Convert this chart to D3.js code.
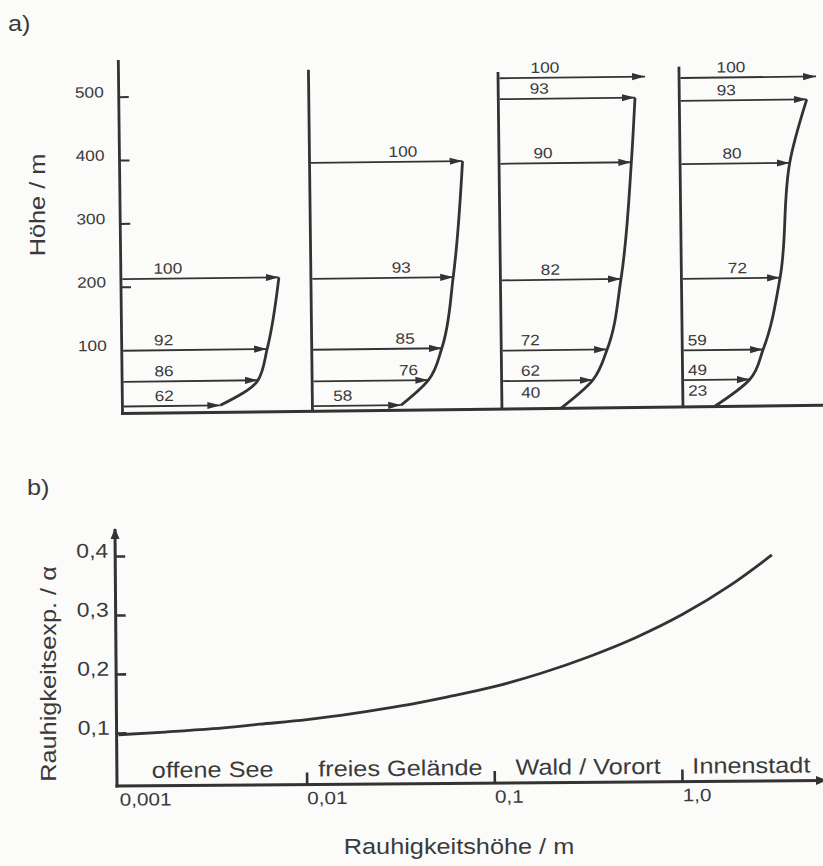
<!DOCTYPE html>
<html>
<head>
<meta charset="utf-8">
<script src="https://cdn.jsdelivr.net/npm/d3@7"></script>
<style>
  html, body { margin: 0; padding: 0; background: #fbfbfa; }
  svg { display: block; font-family: "Liberation Sans", Arial, Helvetica, sans-serif; }
</style>
</head>
<body>
<svg id="chart" width="823" height="866"></svg>
<script>
// ---------- a) Windprofile: relative Windgeschwindigkeit (%) in Höhe (m) ----------
const terrainNames = ["offene See", "freies Gelände", "Wald / Vorort", "Innenstadt"];

const heightsSee    = [11, 50, 99, 212];
const speedsSee     = [62, 86, 92, 100];
const heightsFrei   = [8, 47, 97, 209, 392];
const speedsFrei    = [58, 76, 85, 93, 100];
const heightsWald   = [0, 44, 92, 203, 387, 489, 522];
const speedsWald    = [40, 62, 72, 82, 90, 93, 100];
const heightsStadt  = [0, 42, 89, 202, 383, 483, 519];
const speedsStadt   = [23, 49, 59, 72, 80, 93, 100];

// height (m) up to which the profile curve is drawn (gradient height)
const gradientHeights = [212, 392, 489, 483];
const heightTicks = [100, 200, 300, 400, 500];

// ---------- b) Rauhigkeitsexponent über Rauhigkeitshöhe ----------
const roughnessLength = [0.001, 0.00177, 0.00319, 0.00567, 0.0101, 0.018, 0.032, 0.057,
                         0.102, 0.181, 0.323, 0.577, 1.03, 1.84, 3.08];
const roughnessExp    = [0.097, 0.101, 0.106, 0.113, 0.120, 0.130, 0.142, 0.157,
                         0.174, 0.196, 0.223, 0.255, 0.294, 0.342, 0.393];
const classBounds     = [0.001, 0.01, 0.1, 1.0, 5.5];
const lengthTicks      = [0.001, 0.01, 0.1, 1.0];
const lengthTickLabels = ["0,001", "0,01", "0,1", "1,0"];
const expTicks      = [0.1, 0.2, 0.3, 0.4];
const expTickLabels = ["0,1", "0,2", "0,3", "0,4"];

// ---------- layout ----------
const INK = "#333333", TEXT = "#3a3a3a";
const SX = 1.15;                       // horizontal stretch of the lettering
const panelX     = [122.5, 312.5, 502, 683];
const panelWidth = [158, 153, 147, 137];   // arrow length of 100 %
const axisTopM   = [558, 539, 532, 537];   // top of each vertical axis (m)
const labelDx = [
  [42, 42, 42, 47],
  [30.5, 96.5, 93.5, 90.5, 93.5],
  [29, 29, 29, 50, 44, 41, 47],
  [15, 15, 15, 56, 52, 47, 52]
];

const svg = d3.select("#chart");
const defs = svg.append("defs");
defs.append("marker").attr("id", "head")
  .attr("viewBox", "0 -4 13 8").attr("refX", 13).attr("refY", 0)
  .attr("markerWidth", 13).attr("markerHeight", 8)
  .attr("markerUnits", "userSpaceOnUse").attr("orient", "auto")
  .append("path").attr("d", "M0,-3.6L13,0L0,3.6Z").attr("fill", INK);
defs.append("marker").attr("id", "axisHead")
  .attr("viewBox", "0 -5 11 10").attr("refX", 10).attr("refY", 0)
  .attr("markerWidth", 11).attr("markerHeight", 10)
  .attr("markerUnits", "userSpaceOnUse").attr("orient", "auto")
  .append("path").attr("d", "M0,-4.5L11,0L0,4.5Z").attr("fill", INK);

function label(parent, x, y, str, size, anchor = "middle", rot = 0) {
  return parent.append("text")
    .attr("transform", `translate(${x},${y})` + (rot ? ` rotate(${rot})` : "") + ` scale(${SX},1)`)
    .attr("text-anchor", anchor)
    .attr("font-size", size)
    .attr("fill", TEXT)
    .text(str);
}

function styleAxis(sel, size) {
  sel.attr("font-family", null).attr("font-size", null);
  sel.selectAll(".tick line").attr("stroke", INK).attr("stroke-width", 2);
  sel.selectAll(".tick text").attr("fill", TEXT).attr("font-size", size)
    .attr("transform", `scale(${SX},1)`);
}

// ================= a) =================
const topG = svg.append("g").attr("transform", "rotate(-0.68,122.5,413.5)");
const yTop = d3.scaleLinear().domain([0, 500]).range([413.5, 96.7]);

// ground line
topG.append("line")
  .attr("x1", panelX[0] - 1.5).attr("x2", 840)
  .attr("y1", yTop(0)).attr("y2", yTop(0))
  .attr("stroke", INK).attr("stroke-width", 3);

// height axis
const ya = topG.append("g").attr("transform", `translate(${panelX[0]},0)`)
  .call(d3.axisLeft(yTop).tickValues(heightTicks)
    .tickSizeInner(-10).tickSizeOuter(0).tickPadding(13));
ya.select(".domain").remove();
styleAxis(ya, 15);
ya.selectAll(".tick text").attr("dy", "0em");
ya.selectAll(".tick").filter(d => d === 100).select("line").remove();

const profiles = [
  { h: heightsSee,   v: speedsSee },
  { h: heightsFrei,  v: speedsFrei },
  { h: heightsWald,  v: speedsWald },
  { h: heightsStadt, v: speedsStadt }
];

const labelY = h => h > 0 ? yTop(h) - 5 : yTop(0) - 11;

profiles.forEach((p, i) => {
  const xs = d3.scaleLinear().domain([0, 100]).range([0, panelWidth[i]]);
  const g = topG.append("g").attr("transform", `translate(${panelX[i]},0)`)
    .attr("aria-label", terrainNames[i]);
  const pts = p.h.map((h, j) => ({ h, v: p.v[j], dx: labelDx[i][j] }));

  // vertical axis of the panel
  g.append("line")
    .attr("x1", 0).attr("x2", 0)
    .attr("y1", yTop(0) + 1).attr("y2", yTop(axisTopM[i]))
    .attr("stroke", INK).attr("stroke-width", 2.8);

  // speed arrows
  g.selectAll("line.arrow").data(pts.filter(d => d.h > 0)).join("line")
    .attr("class", "arrow")
    .attr("x1", 1.4).attr("x2", d => xs(d.v))
    .attr("y1", d => yTop(d.h)).attr("y2", d => yTop(d.h))
    .attr("stroke", INK).attr("stroke-width", 1.8)
    .attr("marker-end", "url(#head)");

  // speed labels
  pts.forEach(d => label(g, d.dx, labelY(d.h), d.v, 15));

  // profile curve
  const curvePts = pts.filter(d => d.h <= gradientHeights[i]).sort((a, b) => b.h - a.h);
  g.append("path")
    .attr("d", d3.line().x(d => xs(d.v)).y(d => yTop(d.h)).curve(d3.curveMonotoneY)(curvePts))
    .attr("fill", "none").attr("stroke", INK).attr("stroke-width", 2.8);
});

label(svg, 8, 31, "a)", 22, "start");
label(svg, 45, 205, "Höhe / m", 22, "middle", -90);

// ================= b) =================
const botG = svg.append("g").attr("transform", "rotate(-0.45,117,786)");
const xB = d3.scaleLog().domain([0.001, 1]).range([119, 682]);
const yB = d3.scaleLinear().domain([0.1, 0.4]).range([733, 556]);
const baseY = 786, originX = 117;

// axes with arrow heads
botG.append("line")
  .attr("x1", originX - 1.5).attr("x2", 826)
  .attr("y1", baseY).attr("y2", baseY)
  .attr("stroke", INK).attr("stroke-width", 3)
  .attr("marker-end", "url(#axisHead)");
botG.append("line")
  .attr("x1", originX).attr("x2", originX)
  .attr("y1", baseY + 1.5).attr("y2", 529)
  .attr("stroke", INK).attr("stroke-width", 3)
  .attr("marker-end", "url(#axisHead)");

const xa = botG.append("g").attr("transform", `translate(0,${baseY})`)
  .call(d3.axisBottom(xB).tickValues(lengthTicks)
    .tickFormat(d => lengthTickLabels[lengthTicks.indexOf(d)])
    .tickSizeInner(-12).tickSizeOuter(0).tickPadding(7));
xa.select(".domain").remove();
styleAxis(xa, 18);
xa.selectAll(".tick text").attr("text-anchor", "start");
xa.selectAll(".tick").filter(d => d === 0.001).select("line").remove();
xa.selectAll(".tick line").attr("stroke-width", 2.6);

const yaB = botG.append("g").attr("transform", `translate(${originX},0)`)
  .call(d3.axisLeft(yB).tickValues(expTicks)
    .tickFormat(d => expTickLabels[expTicks.indexOf(d)])
    .tickSizeInner(-10).tickSizeOuter(0).tickPadding(6));
yaB.select(".domain").remove();
styleAxis(yaB, 20);
yaB.selectAll(".tick text").attr("dy", "0.05em");
yaB.selectAll(".tick line").attr("stroke-width", 2.6);

// terrain classes along the axis
terrainNames.forEach((name, i) => {
  const cx = (xB(classBounds[i]) + xB(classBounds[i + 1])) / 2;
  label(botG, cx, baseY - 8, name, 22);
});

// exponent curve
const expData = roughnessLength.map((z, i) => ({ z, a: roughnessExp[i] }));
botG.append("path")
  .attr("d", d3.line().x(d => xB(d.z)).y(d => yB(d.a)).curve(d3.curveMonotoneX)(expData))
  .attr("fill", "none").attr("stroke", INK).attr("stroke-width", 2.8);

label(svg, 27, 495, "b)", 22, "start");
label(svg, 56, 674, "Rauhigkeitsexp. / α", 22, "middle", -90);
label(svg, 459, 854, "Rauhigkeitshöhe / m", 22, "middle");
</script>
</body>
</html>
